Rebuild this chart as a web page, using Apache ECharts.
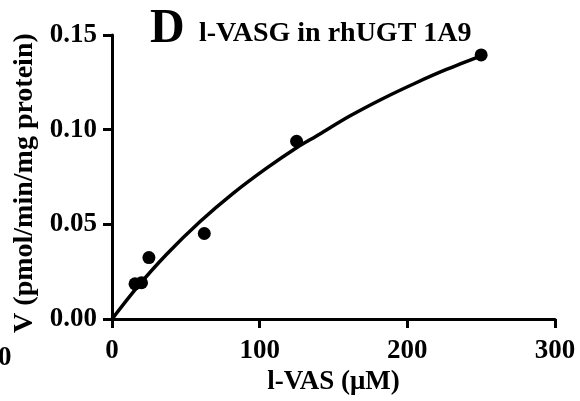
<!DOCTYPE html>
<html>
<head>
<meta charset="utf-8">
<script src="https://cdn.jsdelivr.net/npm/echarts@6/dist/echarts.min.js"></script>
<style>
    html, body { margin: 0; padding: 0; background: #fff; }
    #main { width: 580px; height: 401px; }
</style>
</head>
<body>
<div id="main"></div>
<script>
// measured points: substrate (uM) and rate
let substrate = [15.6, 20, 25, 62.5, 125, 250];
let rate = [0.0186, 0.0192, 0.0325, 0.0452, 0.0939, 0.1395];

// fitted curve
let fitX = [0, 16.7, 37, 59.5, 82, 104.7, 125, 138.5, 161, 183.6, 206, 226.5, 250];
let fitY = [0, 0.0165, 0.0342, 0.0514, 0.0664, 0.0797, 0.0905, 0.0967, 0.1072, 0.1165, 0.1248, 0.1318, 0.139];

let xTicks = [0, 100, 200, 300];
let yTicks = [0, 0.05, 0.10, 0.15];

(function () {
    let myChart = echarts.init(document.getElementById("main"));
    let font = "'Liberation Serif', 'Times New Roman', serif";

    let option = {
        animation: false,
        backgroundColor: "#fff",
        grid: { left: 112, right: 25, top: 35, bottom: 72 },
        xAxis: {
            type: "value",
            min: xTicks[0],
            max: xTicks[xTicks.length - 1],
            interval: 100,
            name: "l-VAS (μM)",
            nameLocation: "middle",
            nameGap: 46,
            nameTextStyle: { fontFamily: font, fontWeight: "bold", fontSize: 27, color: "#000" },
            axisLine: { show: true, lineStyle: { color: "#000", width: 3 } },
            axisTick: { show: true, length: 9, lineStyle: { color: "#000", width: 3 } },
            axisLabel: { margin: 18, fontFamily: font, fontWeight: "bold", fontSize: 27, color: "#000" },
            splitLine: { show: false }
        },
        yAxis: {
            type: "value",
            min: yTicks[0],
            max: yTicks[yTicks.length - 1],
            interval: 0.05,
            name: "V (pmol/min/mg protein)",
            nameLocation: "middle",
            nameGap: 73,
            nameTextStyle: { fontFamily: font, fontWeight: "bold", fontSize: 28, color: "#000", padding: [0, 12, 0, 0] },
            axisLine: { show: true, lineStyle: { color: "#000", width: 3 } },
            axisTick: { show: true, length: 9, lineStyle: { color: "#000", width: 3 } },
            axisLabel: {
                margin: 15, fontFamily: font, fontWeight: "bold", fontSize: 27, color: "#000",
                formatter: function (v) { return v.toFixed(2); }
            },
            splitLine: { show: false }
        },
        graphic: [
            { type: "text", left: 150, top: 6, style: { text: "D", fontFamily: font, fontWeight: "bold", fontSize: 48, fill: "#000" } },
            { type: "text", left: 199, top: 20, style: { text: "l-VASG in rhUGT 1A9", fontFamily: font, fontWeight: "bold", fontSize: 28, fill: "#000" } },
            { type: "text", left: -2, top: 345, style: { text: "0", fontFamily: font, fontWeight: "bold", fontSize: 27, fill: "#000" } }
        ],
        series: [
            {
                type: "line",
                data: fitX.map(function (x, i) { return [x, fitY[i]]; }),
                smooth: 0.3,
                symbol: "none",
                lineStyle: { color: "#000", width: 3.5 },
                z: 2
            },
            {
                type: "scatter",
                data: substrate.map(function (x, i) { return [x, rate[i]]; }),
                symbolSize: 13,
                itemStyle: { color: "#000", opacity: 1 },
                z: 3
            }
        ]
    };

    myChart.setOption(option);
    window.addEventListener("resize", function () {
        myChart.resize();
    });
})();
</script>
</body>
</html>
